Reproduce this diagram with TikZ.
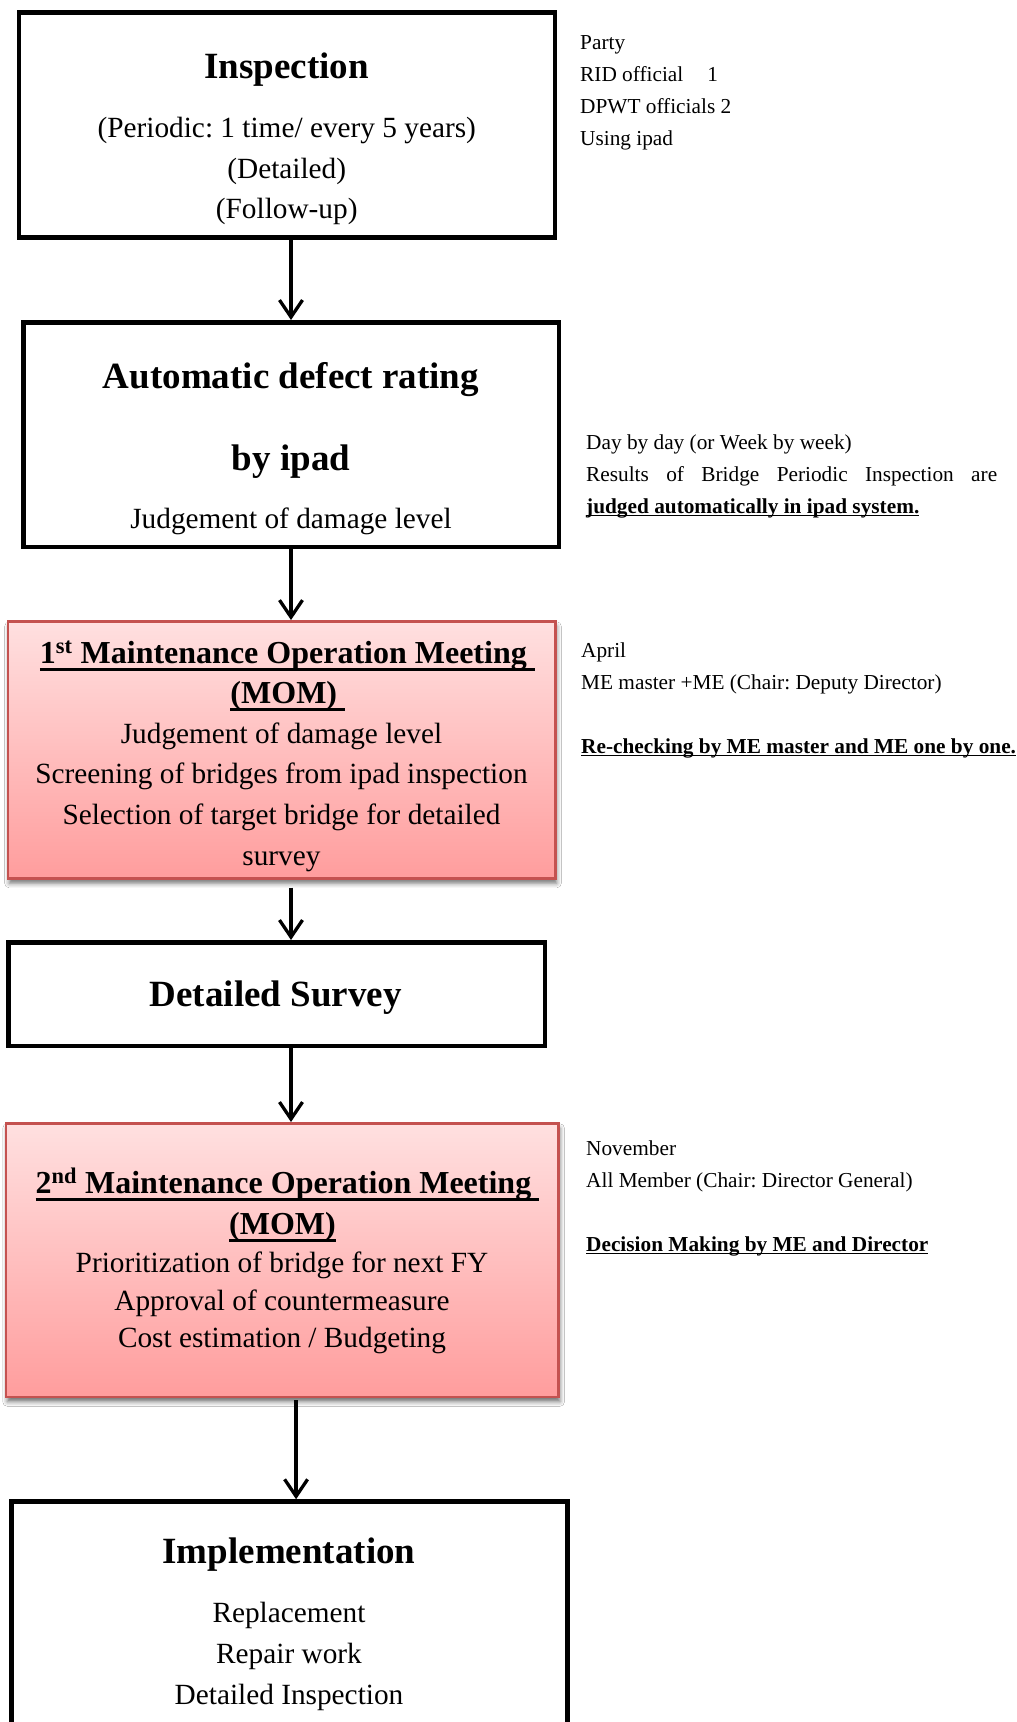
\documentclass[tikz,border=0pt]{standalone}
\usepackage{fontspec}
\setmainfont{Liberation Serif}
\usetikzlibrary{arrows.meta,calc,shadows.blur}

\definecolor{momtop}{RGB}{255,224,224}
\definecolor{mombot}{RGB}{255,157,157}
\definecolor{momline}{RGB}{196,82,80}

% text underlined by a rule: #1 depth of the rule below the baseline, #2 its thickness
\newcommand\ulbox[3]{\setbox0=\hbox{#3}\rlap{\rule[-#1]{\wd0}{#2}}\box0}

\newcommand\fTitle{\fontsize{37}{44}\selectfont\bfseries}
\newcommand\fMom{\fontsize{32}{40}\selectfont\bfseries}
\newcommand\fBody{\fontsize{29.3}{40}\selectfont}
\newcommand\fNote{\fontsize{21.3}{32}\selectfont}

\begin{document}
\frenchspacing
\begin{tikzpicture}[x=1pt,y=-1pt,
  frame/.style={draw, line width=4.5pt, inner sep=0pt},
  mom/.style={draw=momline, line width=2.5pt, top color=momtop, bottom color=mombot,
    inner sep=0pt, blur shadow={shadow xshift=1.5pt, shadow yshift=-5pt,
    shadow blur radius=4.5pt, shadow opacity=55}},
  lbl/.style={anchor=base, inner sep=0pt},
  note/.style={anchor=base west, inner sep=0pt, font=\fNote},
  arr/.style={line width=3.3pt, -{Straight Barb[length=17pt,width=23pt]}}]

\useasboundingbox (0,0) rectangle (1017,1722);
\fill[white] (0,0) rectangle (1017,1722);
\clip (0,0) rectangle (1017,1722);

% process boxes
\node[frame, minimum width=536pt, minimum height=225pt] (insp) at (286.75,124.75) {};
\node[frame, minimum width=535.5pt, minimum height=224.5pt] (rate) at (291,434.5) {};
\node[mom, minimum width=547.5pt, minimum height=257pt] (mom1) at (281.5,749.8) {};
\node[frame, minimum width=536.5pt, minimum height=103.5pt] (surv) at (276.5,994) {};
\node[mom, minimum width=552.7pt, minimum height=273.5pt] (mom2) at (282.1,1260) {};
\node[frame, minimum width=556pt, minimum height=320pt, anchor=north] (impl) at (289.25,1499.25) {};

% Inspection
\node[lbl, font=\fTitle] (i1) at (286.75,78) {Inspection};
\node[lbl, font=\fBody] (i2) at (286.75,137) {(Periodic: 1 time/ every 5 years)};
\node[lbl, font=\fBody] (i3) at (286.75,178) {(Detailed)};
\node[lbl, font=\fBody] (i4) at (286.75,218) {(Follow-up)};

% Automatic rating
\node[lbl, font=\fTitle] (r1) at (291,388) {Automatic defect rating};
\node[lbl, font=\fTitle] (r2) at (291,470) {by ipad};
\node[lbl, font=\fBody] (r3) at (291,528) {Judgement of damage level};

% 1st meeting
\node[lbl, font=\fMom] (m1) at (287.4,663) {\ulbox{7.5pt}{3pt}{1\textsuperscript{st} Maintenance Operation Meeting\hspace{0.25em}}};
\node[lbl, font=\fMom] (m2) at (287.8,703) {\ulbox{7.5pt}{3pt}{(MOM)\hspace{0.25em}}};
\node[lbl, font=\fBody] (m3) at (281.5,743) {Judgement of damage level};
\node[lbl, font=\fBody] (m4) at (281.5,783.5) {Screening of bridges from ipad inspection};
\node[lbl, font=\fBody] (m5) at (281.5,824) {Selection of target bridge for detailed};
\node[lbl, font=\fBody] (m6) at (281.5,865) {survey};

% Detailed survey
\node[lbl, font=\fTitle] (s1) at (275.7,1006) {Detailed Survey};

% 2nd meeting
\node[lbl, font=\fMom] (n1) at (287.5,1193) {\ulbox{7.5pt}{3pt}{2\textsuperscript{nd} Maintenance Operation Meeting\hspace{0.25em}}};
\node[lbl, font=\fMom] (n2) at (282.5,1234) {\ulbox{7.5pt}{3pt}{(MOM)}};
\node[lbl, font=\fBody] (n3) at (282,1272) {Prioritization of bridge for next FY};
\node[lbl, font=\fBody] (n4) at (282,1310) {Approval of countermeasure};
\node[lbl, font=\fBody] (n5) at (282,1347) {Cost estimation / Budgeting};

% Implementation
\node[lbl, font=\fTitle] (p1) at (289,1563) {Implementation};
\node[lbl, font=\fBody] (p2) at (289,1622) {Replacement};
\node[lbl, font=\fBody] (p3) at (289,1663) {Repair work};
\node[lbl, font=\fBody] (p4) at (289,1704) {Detailed Inspection};

% side notes
\node[note] (a1) at (580,49) {Party};
\node[note] (a2) at (580,81) {RID official\hspace{24pt}1};
\node[note] (a3) at (580,113) {DPWT officials 2};
\node[note] (a4) at (580,145) {Using ipad};

\node[note] (b1) at (586,449) {Day by day (or Week by week)};
\node[note] (b2) at (586,481) {\makebox[411pt][s]{Results of Bridge Periodic Inspection are}};
\node[note] (b3) at (586,513) {\bfseries\ulbox{3.2pt}{1.5pt}{judged automatically in ipad system.}};

\node[note] (c1) at (581,657) {April};
\node[note] (c2) at (581,689) {ME master +ME (Chair: Deputy Director)};
\node[note] (c3) at (581,753) {\bfseries\ulbox{3.2pt}{1.5pt}{Re-checking by ME master and ME one by one.}};

\node[note] (d1) at (586,1155) {November};
\node[note] (d2) at (586,1187) {All Member (Chair: Director General)};
\node[note] (d3) at (586,1251) {\bfseries\ulbox{3.2pt}{1.5pt}{Decision Making by ME and Director}};

% connectors
\draw[arr] (insp.south -| rate.north) -- (rate.north);
\draw[arr] (rate.south) -- (rate.south |- mom1.north);
\coordinate (s3) at ($(mom1.south -| rate.south)+(0,8)$);
\draw[arr] (s3) -- (s3 |- surv.north);
\draw[arr] (surv.south -| rate.south) -- (rate.south |- mom2.north);
\coordinate (s5) at ($(mom2.south)+(14,2)$);
\draw[arr] (s5) -- (s5 |- impl.north);
\end{tikzpicture}
\end{document}
